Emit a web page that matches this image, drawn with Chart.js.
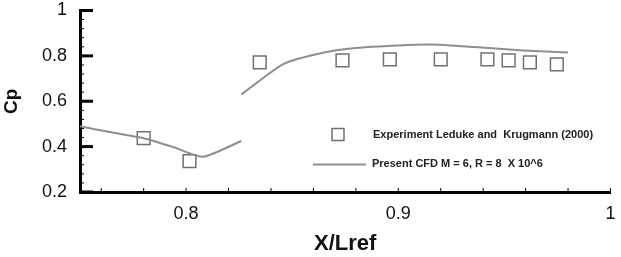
<!DOCTYPE html>
<html>
<head>
<meta charset="utf-8">
<script src="https://cdn.jsdelivr.net/npm/chart.js@4/dist/chart.umd.min.js"></script>
<style>
  html, body { margin: 0; padding: 0; background: #fff; }
  #wrap { width: 621px; height: 257px; }
</style>
</head>
<body>
<div id="wrap"><canvas id="grafico" width="621" height="257"></canvas></div>
<script>
// CFD curve (null = gap between the two segments)
var cfdX = [0.75, 0.764, 0.78, 0.794, 0.808, 0.826, null, 0.826, 0.846, 0.865, 0.88, 0.9, 0.916, 0.936, 0.959, 0.98];
var cfdCp = [0.49, 0.464, 0.437, 0.398, 0.355, 0.425, null, 0.63, 0.765, 0.815, 0.835, 0.846, 0.85, 0.839, 0.824, 0.815];

// experiment points
var expX = [0.78, 0.8016, 0.8347, 0.8737, 0.896, 0.92, 0.942, 0.952, 0.962, 0.9747];
var expCp = [0.437, 0.336, 0.771, 0.780, 0.785, 0.785, 0.785, 0.780, 0.771, 0.763];

var xTicks = [0.8, 0.9, 1];
var xTickLabels = ['0.8', '0.9', '1'];
var yTicks = [0.2, 0.4, 0.6, 0.8, 1];
var yTickLabels = ['0.2', '0.4', '0.6', '0.8', '1'];

var legendExp = 'Experiment Leduke and  Krugmann (2000)';
var legendCfd = 'Present CFD M = 6, R = 8  X 10^6';

var corLinha = '#8f8f8f';
var corMarca = '#707070';

var pontosCfd = cfdX.map(function (x, i) { return x === null ? {x: 0.826, y: null} : {x: x, y: cfdCp[i]}; });
var pontosExp = expX.map(function (x, i) { return {x: x, y: expCp[i]}; });

// ticks pointing into the plot + legend inside the plot
var extras = {
    id: 'extras',
    afterDraw: function (chart) {
        var ctx = chart.ctx;
        var a = chart.chartArea;
        var sx = chart.scales.x, sy = chart.scales.y;
        ctx.save();
        ctx.strokeStyle = '#000';
        // y major
        ctx.lineWidth = 3;
        yTicks.forEach(function (v) {
            var py = sy.getPixelForValue(v);
            ctx.beginPath(); ctx.moveTo(a.left, py); ctx.lineTo(a.left + 13, py); ctx.stroke();
        });
        // y minor
        ctx.lineWidth = 1;
        for (var v = 0.24; v < 1; v += 0.04) {
            var py = sy.getPixelForValue(v);
            ctx.beginPath(); ctx.moveTo(a.left, py); ctx.lineTo(a.left + 4, py); ctx.stroke();
        }
        // x minor
        for (var w = 0.76; w <= 1.0001; w += 0.02) {
            var px = sx.getPixelForValue(w);
            ctx.beginPath(); ctx.moveTo(px, a.bottom); ctx.lineTo(px, a.bottom - 4); ctx.stroke();
        }

        // legend
        var lx = a.left + 258;
        ctx.fillStyle = '#fff';
        ctx.strokeStyle = corMarca;
        ctx.lineWidth = 1.5;
        ctx.beginPath(); ctx.rect(lx - 6, a.top + 118, 12, 12); ctx.fill(); ctx.stroke();
        ctx.strokeStyle = corLinha;
        ctx.lineWidth = 2;
        ctx.beginPath(); ctx.moveTo(a.left + 233, a.top + 154); ctx.lineTo(a.left + 286, a.top + 154); ctx.stroke();
        ctx.fillStyle = '#222';
        ctx.font = 'bold 11px "Liberation Sans"';
        ctx.textBaseline = 'middle';
        ctx.fillText(legendExp, a.left + 293, a.top + 124);
        ctx.fillText(legendCfd, a.left + 292, a.top + 153);
        ctx.restore();
    }
};

new Chart(document.getElementById('grafico').getContext('2d'), {
    type: 'scatter',
    data: {
        datasets: [{
            label: legendCfd,
            data: pontosCfd,
            showLine: true,
            spanGaps: false,
            borderColor: corLinha,
            borderWidth: 2,
            pointRadius: 0,
            tension: 0.2
        }, {
            label: legendExp,
            data: pontosExp,
            showLine: false,
            pointStyle: 'rect',
            pointRadius: 9,
            pointBackgroundColor: 'rgba(255,255,255,0)',
            pointBorderColor: corMarca,
            pointBorderWidth: 1.5
        }]
    },
    options: {
        responsive: false,
        animation: false,
        layout: { padding: { top: 10, right: 3, left: 0, bottom: 0 } },
        plugins: { legend: { display: false }, tooltip: { enabled: false } },
        scales: {
            x: {
                type: 'linear',
                min: 0.75,
                max: 1,
                afterBuildTicks: function (s) { s.ticks = xTicks.map(function (v) { return {value: v}; }); },
                afterFit: function (s) { s.height = 65; s.paddingLeft = 0; s.paddingRight = 0; },
                grid: { display: false, drawTicks: false },
                border: { display: true, color: '#000', width: 3 },
                ticks: {
                    color: '#111',
                    font: { family: 'Liberation Sans', size: 18 },
                    padding: 11,
                    maxRotation: 0,
                    callback: function (v) { var i = xTicks.indexOf(v); return i < 0 ? '' : xTickLabels[i]; }
                },
                title: {
                    display: true,
                    text: 'X/Lref',
                    color: '#111',
                    font: { family: 'Liberation Sans', size: 22, weight: 'bold' },
                    padding: { top: 4, bottom: 0 }
                }
            },
            y: {
                min: 0.2,
                max: 1,
                afterBuildTicks: function (s) { s.ticks = yTicks.map(function (v) { return {value: v}; }); },
                afterFit: function (s) { s.width = 80; s.paddingTop = 0; s.paddingBottom = 0; },
                grid: { display: false, drawTicks: false },
                border: { display: true, color: '#000', width: 3 },
                ticks: {
                    color: '#111',
                    font: { family: 'Liberation Sans', size: 18 },
                    padding: 13,
                    callback: function (v) { var i = yTicks.indexOf(v); return i < 0 ? '' : yTickLabels[i]; }
                },
                title: {
                    display: true,
                    text: 'Cp',
                    color: '#111',
                    font: { family: 'Liberation Sans', size: 19, weight: 'bold' },
                    padding: { top: 0, bottom: 0 }
                }
            }
        }
    },
    plugins: [extras]
});
</script>
</body>
</html>
